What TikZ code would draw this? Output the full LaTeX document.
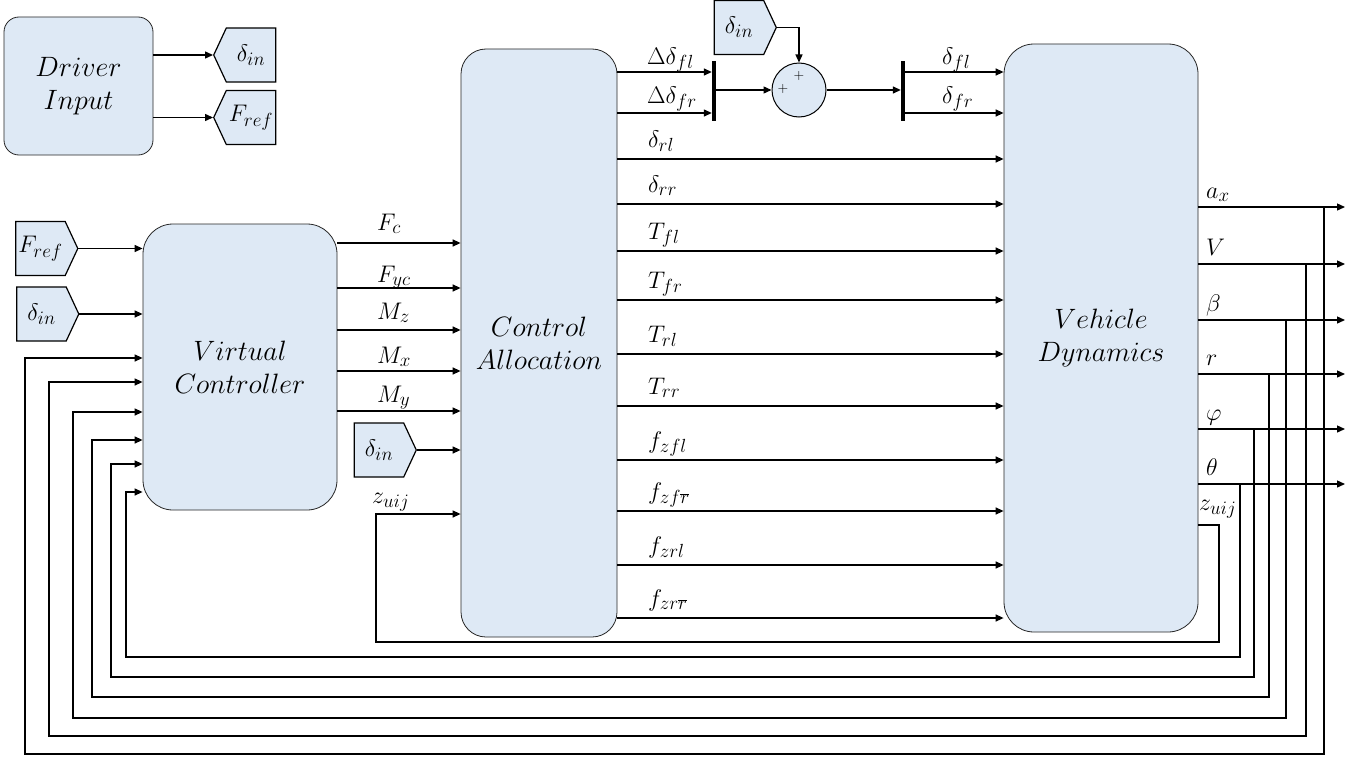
\RequirePackage{fix-cm}
\documentclass[tikz,border=0pt]{standalone}
\usetikzlibrary{shapes.symbols,arrows.meta}
\definecolor{boxblue}{RGB}{222,233,245}
\DeclareMathSizes{24}{24}{19}{14}
\DeclareMathSizes{28}{28}{20}{15}
\begin{document}
\begin{tikzpicture}[x=1pt,y=-1pt,
  blk/.style={draw=black!85, line width=0.8pt, fill=boxblue, rounded corners=#1, inner sep=0pt, align=center, font=\fontsize{28}{33}\selectfont},
  blk/.default=30pt,
  lbl/.style={font=\fontsize{24}{28}\selectfont, anchor=base west, inner sep=0pt},
  tagR/.style={signal, signal to=east, signal pointer angle=130, draw, line width=1.2pt, fill=boxblue, minimum width=62pt, minimum height=54pt, inner sep=0pt, font=\fontsize{24}{28}\selectfont},
  tagL/.style={tagR, signal to=west},
  barblk/.style={fill=black, minimum width=4pt, minimum height=60pt, inner sep=0pt},
  sumblk/.style={circle, draw, line width=1pt, fill=boxblue, minimum size=54pt, inner sep=0pt},
  arr/.style={-{Triangle[length=8pt,width=7pt]}, line width=1.3pt},
  pls/.style={font=\fontsize{14}{16}\selectfont, inner sep=0pt}]
\useasboundingbox (0,0) rectangle (1367,760);

% main blocks
\node[blk=15pt, minimum width=149pt, minimum height=138pt] (DI) at (78.5,86) {$Driver$\\$Input$};
\node[blk, minimum width=194pt, minimum height=286pt] (VC) at (240,367) {$Virtual$\\$Controller$};
\node[blk=25pt, minimum width=156pt, minimum height=588pt] (CA) at (539,343) {$Control$\\$Allocation$};
\node[blk, minimum width=194pt, minimum height=588pt] (VD) at (1101,338) {$Vehicle$\\$Dynamics$};

% tags
\node[tagL] (t1) at (251,55) {$\delta_{in}$};
\node[tagL] (t2) at (251,117.5) {$F_{ref}$};
\node[tagR] (t3) at (40.5,248.5) {$F_{ref}$};
\node[tagR] (t4) at (41.5,314) {$\delta_{in}$};
\node[tagR] (t5) at (379,450) {$\delta_{in}$};
\node[tagR] (t6) at (739,27.5) {$\delta_{in}$};

% driver outputs
\draw[arr] (DI.east |- t1.west) -- (t1.west);
\draw[arr] (DI.east |- t2.west) -- (t2.west);
% virtual controller inputs
\draw[arr] (t3.east) -- (VC.west |- t3.east);
\draw[arr] (t4.east) -- (VC.west |- t4.east);

% VC -> CA
\foreach \yy/\lab/\bb [count=\i] in {243/F_c/13, 288/F_{yc}/6, 330/M_z/11, 371/M_x/8, 411/M_y/9} {
  \draw[arr] (VC.east |- 0,\yy) -- (CA.west |- 0,\yy);
  \node[lbl] (vcl\i) at (377,\yy-\bb) {$\lab$};
}
\draw[arr] (t5.east) -- (CA.west |- t5.east);

% z_uij loop
\draw[arr] (VD.east |- 0,525) -- (1219,525) -- (1219,642) -- (376,642) -- (376,514) -- (CA.west |- 0,514);
\node[lbl] (zl) at (372,503) {$z_{uij}$};
\node[lbl] (zr) at (1199,510) {$z_{uij}$};

% CA -> VD
\foreach \yy/\lab [count=\i] in {159/\delta_{rl}, 204/\delta_{rr}, 251/T_{fl}, 300/T_{fr}, 354/T_{rl}, 406/T_{rr}, 460/f_{zfl}, 511/f_{zf\overline{r}}, 565/f_{zrl}, 618/f_{zr\overline{r}}} {
  \draw[arr] (CA.east |- 0,\yy) -- (VD.west |- 0,\yy);
  \node[lbl] (cal\i) at (648,\yy-12) {$\lab$};
}

% steering summation
\node[barblk] (bar1) at (714,91) {};
\node[sumblk] (sum) at (799,90) {};
\node[barblk] (bar2) at (903,91) {};
\node[pls] (p1) at (783,89) {$+$};
\node[pls] (p2) at (799,76) {$+$};
\draw[arr] (CA.east |- 0,72) -- (bar1.west |- 0,72);
\draw[arr] (CA.east |- 0,113) -- (bar1.west |- 0,113);
\node[lbl] (dfl) at (647,64) {$\Delta\delta_{fl}$};
\node[lbl] (dfr) at (647,103) {$\Delta\delta_{fr}$};
\draw[arr] (bar1.east |- sum.west) -- (sum.west);
\draw[arr] (t6.east) -| (sum.north);
\draw[arr] (sum.east) -- (bar2.west |- sum.east);
\draw[arr] (bar2.east |- 0,72) -- (VD.west |- 0,72);
\draw[arr] (bar2.east |- 0,113) -- (VD.west |- 0,113);
\node[lbl] (sfl) at (942,64) {$\delta_{fl}$};
\node[lbl] (sfr) at (942,103) {$\delta_{fr}$};

% VD outputs and feedback
\foreach \yy/\xv/\yb/\xl/\yin/\lab [count=\i] in {207/1324/754/25/358/a_x, 264/1306/736/49/382/V, 320/1286/718/73/412/\beta, 374/1269/697/92/440/r, 429/1254/677/111/464/\varphi, 484/1240/657/126/492/\theta} {
  \coordinate (o\i) at (1345,\yy);
  \draw[arr] (VD.east |- o\i) -- (o\i);
  \node[lbl] (vdl\i) at (1206,\yy-9) {$\lab$};
  \coordinate (br\i) at (\xv,\yy);
  \draw[arr] (br\i) |- (\xl,\yb) |- (VC.west |- 0,\yin);
}
\end{tikzpicture}
\end{document}
